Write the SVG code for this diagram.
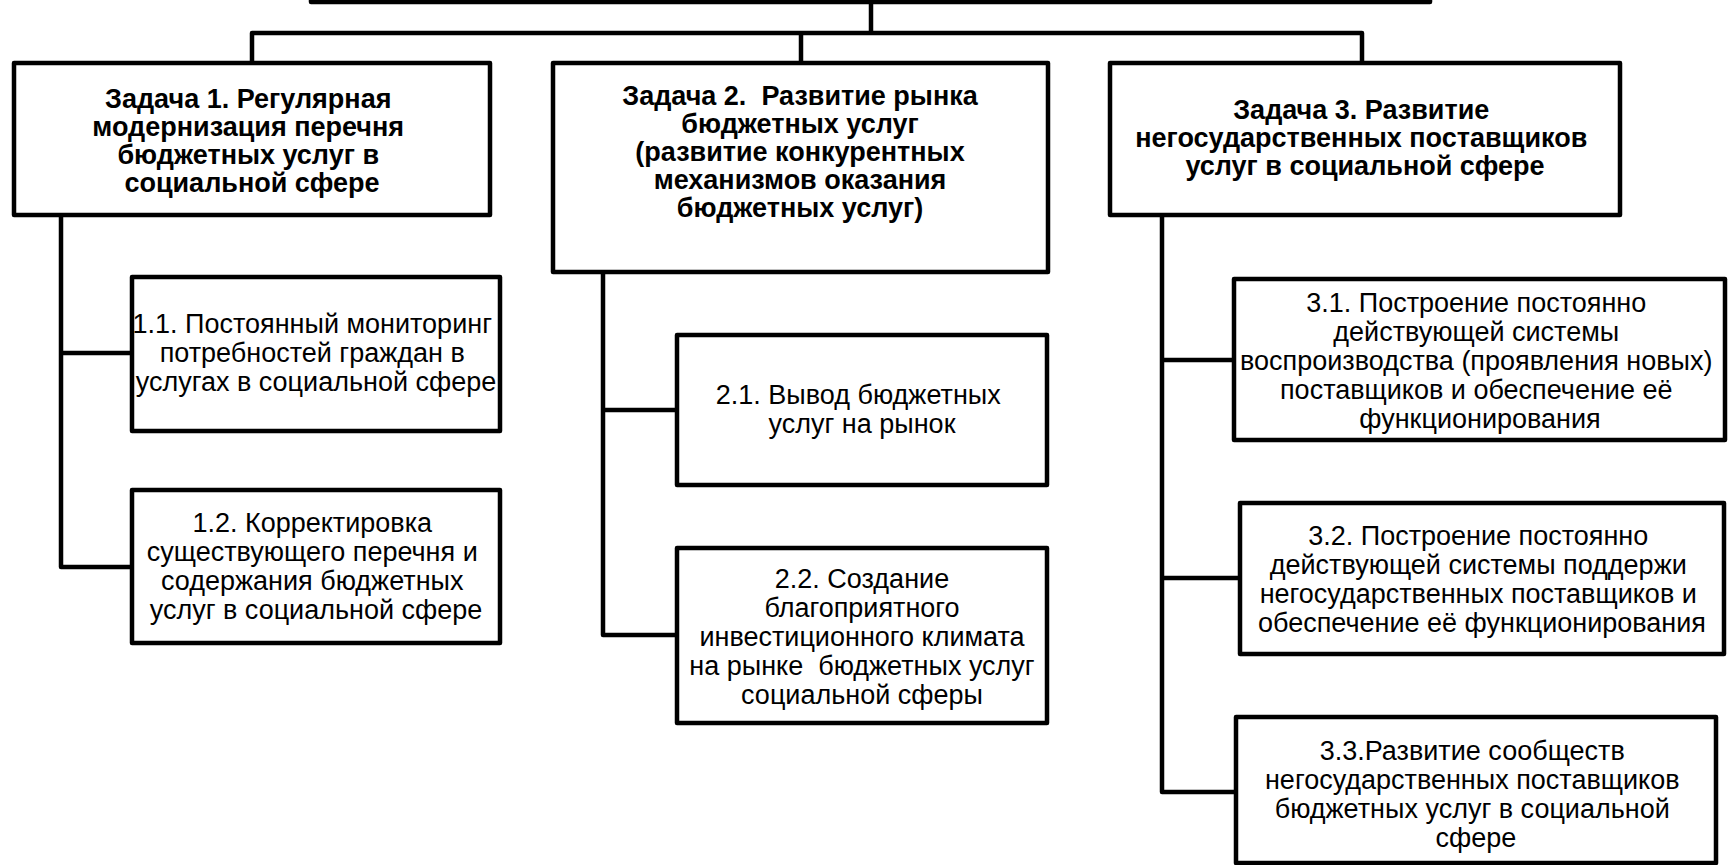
<svg xmlns="http://www.w3.org/2000/svg" width="1729" height="865" viewBox="0 0 1729 865">
<style>
  .box { fill: #ffffff; stroke: #000000; stroke-width: 4.5; stroke-linejoin: round; }
  .conn { fill: none; stroke: #000000; stroke-width: 4.5; stroke-linejoin: round; stroke-linecap: butt; }
  .t { font-family: "Liberation Sans", Arial, sans-serif; font-size: 27px; fill: #000000; text-anchor: middle; }
  .tb { font-family: "Liberation Sans", Arial, sans-serif; font-size: 27px; font-weight: bold; fill: #000000; text-anchor: middle; }
</style>
<rect width="1729" height="865" fill="#ffffff"/>

<g id="connectors">
  <path class="conn" d="M871 2 V33"/>
  <path class="conn" d="M252 63 V33 H1362 V63"/>
  <path class="conn" d="M801 33 V63"/>
  <path class="conn" d="M61 215 V567 H132"/>
  <path class="conn" d="M61 353 H132"/>
  <path class="conn" d="M603 272 V635 H677"/>
  <path class="conn" d="M603 410 H677"/>
  <path class="conn" d="M1162 215 V792 H1236"/>
  <path class="conn" d="M1162 360 H1234"/>
  <path class="conn" d="M1162 578 H1240"/>
</g>

<g id="root">
  <rect class="box" x="311" y="-30" width="1119" height="32"/>
</g>

<g id="task1">
  <rect class="box" x="14" y="63" width="476" height="152"/>
  <text class="tb" x="252" y="108">
    <tspan x="252" y="108">Задача 1. Регулярная</tspan>
    <tspan x="252" y="136">модернизация перечня</tspan>
    <tspan x="252" y="164">бюджетных услуг в</tspan>
    <tspan x="252" y="192">социальной сфере</tspan>
  </text>
</g>

<g id="task2">
  <rect class="box" x="553" y="63" width="495" height="209"/>
  <text class="tb" x="800" y="105" xml:space="preserve"><tspan x="800" y="105">Задача 2.  Развитие рынка</tspan><tspan x="800" y="133">бюджетных услуг</tspan><tspan x="800" y="161">(развитие конкурентных</tspan><tspan x="800" y="189">механизмов оказания</tspan><tspan x="800" y="217">бюджетных услуг)</tspan></text>
</g>

<g id="task3">
  <rect class="box" x="1110" y="63" width="510" height="152"/>
  <text class="tb" x="1365" y="119">
    <tspan x="1365" y="119">Задача 3. Развитие</tspan>
    <tspan x="1365" y="147">негосударственных поставщиков</tspan>
    <tspan x="1365" y="175">услуг в социальной сфере</tspan>
  </text>
</g>

<g id="sub11">
  <rect class="box" x="132" y="277" width="368" height="154"/>
  <text class="t" x="316" y="333">
    <tspan x="316" y="333">1.1. Постоянный мониторинг</tspan>
    <tspan x="316" y="362">потребностей граждан в</tspan>
    <tspan x="316" y="391">услугах в социальной сфере</tspan>
  </text>
</g>

<g id="sub12">
  <rect class="box" x="132" y="490" width="368" height="153"/>
  <text class="t" x="316" y="532">
    <tspan x="316" y="532">1.2. Корректировка</tspan>
    <tspan x="316" y="561">существующего перечня и</tspan>
    <tspan x="316" y="590">содержания бюджетных</tspan>
    <tspan x="316" y="619">услуг в социальной сфере</tspan>
  </text>
</g>

<g id="sub21">
  <rect class="box" x="677" y="335" width="370" height="150"/>
  <text class="t" x="862" y="404">
    <tspan x="862" y="404">2.1. Вывод бюджетных</tspan>
    <tspan x="862" y="433">услуг на рынок</tspan>
  </text>
</g>

<g id="sub22">
  <rect class="box" x="677" y="548" width="370" height="175"/>
  <text class="t" x="862" y="588" xml:space="preserve"><tspan x="862" y="588">2.2. Создание</tspan><tspan x="862" y="617">благоприятного</tspan><tspan x="862" y="646">инвестиционного климата</tspan><tspan x="862" y="675">на рынке  бюджетных услуг</tspan><tspan x="862" y="704">социальной сферы</tspan></text>
</g>

<g id="sub31">
  <rect class="box" x="1234" y="279" width="491" height="161"/>
  <text class="t" x="1480" y="312">
    <tspan x="1480" y="312">3.1. Построение постоянно</tspan>
    <tspan x="1480" y="341">действующей системы</tspan>
    <tspan x="1480" y="370">воспроизводства (проявления новых)</tspan>
    <tspan x="1480" y="399">поставщиков и обеспечение её</tspan>
    <tspan x="1480" y="428">функционирования</tspan>
  </text>
</g>

<g id="sub32">
  <rect class="box" x="1240" y="503" width="484" height="151"/>
  <text class="t" x="1482" y="545">
    <tspan x="1482" y="545">3.2. Построение постоянно</tspan>
    <tspan x="1482" y="574">действующей системы поддержи</tspan>
    <tspan x="1482" y="603">негосударственных поставщиков и</tspan>
    <tspan x="1482" y="632">обеспечение её функционирования</tspan>
  </text>
</g>

<g id="sub33">
  <rect class="box" x="1236" y="717" width="480" height="146"/>
  <text class="t" x="1476" y="760">
    <tspan x="1476" y="760">3.3.Развитие сообществ</tspan>
    <tspan x="1476" y="789">негосударственных поставщиков</tspan>
    <tspan x="1476" y="818">бюджетных услуг в социальной</tspan>
    <tspan x="1476" y="847">сфере</tspan>
  </text>
</g>
</svg>
